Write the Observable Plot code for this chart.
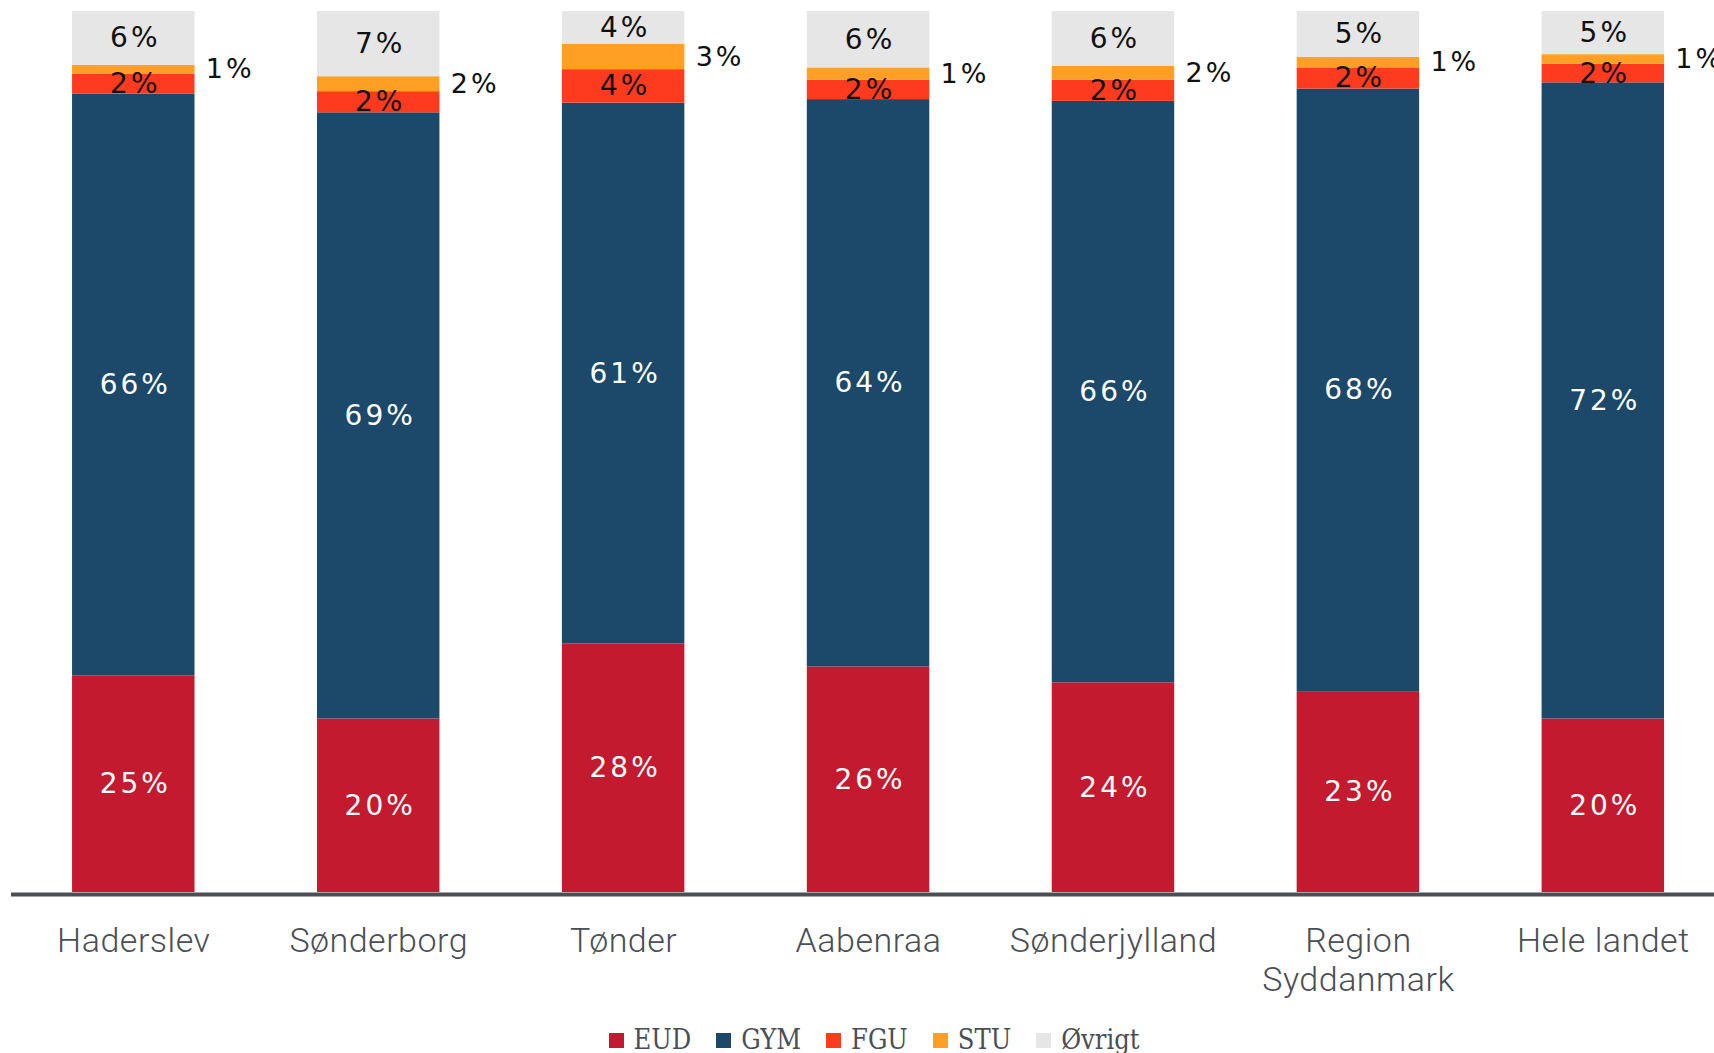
<!DOCTYPE html>
<html>
<head>
<meta charset="utf-8">
<script src="https://cdn.jsdelivr.net/npm/d3@7"></script>
<script src="https://cdn.jsdelivr.net/npm/@observablehq/plot@0.6"></script>
<style>
  html, body { margin: 0; padding: 0; background: #fff; }
  #chart svg { display: block; }
  #chart g[aria-label="text"] text { letter-spacing: 3px; }
  #chart g[aria-label="x-axis tick label"] text { letter-spacing: 0.5px; }
  .legend { display: flex; justify-content: center; align-items: center; gap: 25px;
    margin-top: 17px; padding-left: 34px;
    font-family: "DejaVu Serif Condensed", "DejaVu Serif", serif; font-stretch: condensed;
    font-size: 27px; color: #4a4f55; line-height: 36px; }
  .legend .item { display: flex; align-items: center; gap: 10px; }
  .legend .sw { width: 15px; height: 15px; display: inline-block; }
</style>
</head>
<body>
<div id="chart"></div>
<script>
const categories = ["Haderslev", "Sønderborg", "Tønder", "Aabenraa", "Sønderjylland", "Region Syddanmark", "Hele landet"];
const series = ["EUD", "GYM", "FGU", "STU", "Øvrigt"];
const colors = ["#c41a2f", "#1c4869", "#ff3b1f", "#ffa024", "#e6e6e6"];
const EUD    = [24.6, 19.7, 28.2, 25.6, 23.8, 22.8, 19.7];
const GYM    = [66.0, 68.8, 61.4, 64.4, 66.0, 68.4, 72.2];
const FGU    = [2.3, 2.4, 3.8, 2.2, 2.4, 2.4, 2.1];
const STU    = [1.0, 1.7, 2.9, 1.4, 1.6, 1.2, 1.1];
const Ovrigt = [6.1, 7.4, 3.7, 6.4, 6.2, 5.2, 4.9];

const valuesBySeries = [EUD, GYM, FGU, STU, Ovrigt];
const data = [];
categories.forEach((c, i) => {
  series.forEach((s, j) => {
    data.push({category: c, series: s, value: valuesBySeries[j][i]});
  });
});

const fmt = d => Math.round(d.value) + "%";
const labelFont = "'DejaVu Sans', sans-serif";
const stackOpts = {x: "category", y: "value", z: "series", order: series};

const plot = Plot.plot({
  width: 1714,
  height: 1005,
  marginTop: 11,
  marginBottom: 113,
  marginLeft: 11,
  marginRight: 0,
  style: {fontFamily: labelFont, background: "#fff"},
  x: {domain: categories, paddingInner: 0.5, paddingOuter: 0.2266, align: 0.55, round: false, label: null},
  y: {domain: [0, 100], axis: null},
  color: {domain: series, range: colors},
  marks: [
    Plot.barY(data, Plot.stackY({...stackOpts, fill: "series"})),
    Plot.text(data, Plot.stackY({...stackOpts,
      text: d => (d.series === "EUD" || d.series === "GYM") ? fmt(d) : "",
      fill: "white", fontSize: 28, dx: 1.5})),
    Plot.text(data, Plot.stackY({...stackOpts,
      text: d => (d.series === "FGU" || d.series === "Øvrigt") ? fmt(d) : "",
      fill: "#111", fontSize: 28, dx: 1.5})),
    Plot.text(data, Plot.stackY({...stackOpts,
      text: d => d.series === "STU" ? fmt(d) : "",
      fill: "#111", fontSize: 27, textAnchor: "start", dx: 72})),
    Plot.ruleY([0], {stroke: "#4a4f55", strokeWidth: 4, dy: 2}),
    Plot.axisX({tickSize: 0, tickPadding: 32, fontSize: 34, fontWeight: 300, fill: "#4a4f55", label: null,
      fontFamily: "Roboto, sans-serif", lineHeight: 1.15,
      tickFormat: d => d === "Region Syddanmark" ? "Region\nSyddanmark" : d})
  ]
});
document.getElementById("chart").appendChild(plot);

const legend = document.createElement("div");
legend.className = "legend";
series.forEach((s, i) => {
  const item = document.createElement("span");
  item.className = "item";
  const sw = document.createElement("span");
  sw.className = "sw";
  sw.style.background = colors[i];
  const lab = document.createElement("span");
  lab.textContent = s;
  item.appendChild(sw);
  item.appendChild(lab);
  legend.appendChild(item);
});
document.body.appendChild(legend);
</script>
</body>
</html>
